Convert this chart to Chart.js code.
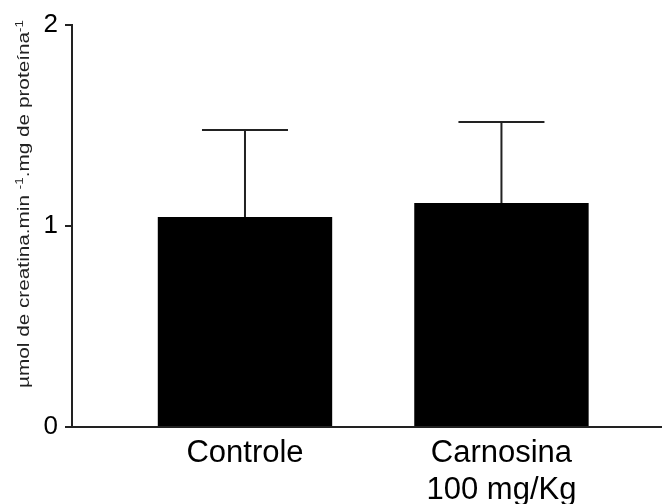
<!DOCTYPE html>
<html lang="pt-br">
<head>
    <meta charset="UTF-8">
    <title>Carnosina</title>
    <script src="https://cdn.jsdelivr.net/npm/chart.js"></script>
    <style>
        body { margin: 0; background: #fff; }
        #caixa { width: 662px; height: 504px; }
    </style>
</head>
<body>
    <div id="caixa">
        <canvas id="grafico" width="662" height="504"></canvas>
    </div>

<script>
    // dados
    const categorias = [['Controle'], ['Carnosina', '100 mg/Kg']];
    const posicoes = [1, 2];
    const medias = [1.045, 1.114];
    const erros = [0.433, 0.403];
    const ticksY = [0, 1, 2];

    const fonte = "'Liberation Sans', Arial, sans-serif";

    // barra de erro (so o lado de cima)
    const barrasErro = {
        id: 'barrasErro',
        afterDatasetsDraw(chart) {
            const { ctx, scales: { x, y } } = chart;
            ctx.save();
            ctx.strokeStyle = '#222';
            ctx.lineWidth = 2;
            medias.forEach((m, i) => {
                const px = x.getPixelForValue(posicoes[i]);
                const base = y.getPixelForValue(m);
                const topo = y.getPixelForValue(m + erros[i]);
                ctx.beginPath();
                ctx.moveTo(px, base);
                ctx.lineTo(px, topo);
                ctx.moveTo(px - 43, topo);
                ctx.lineTo(px + 43, topo);
                ctx.stroke();
            });
            ctx.restore();
        }
    };

    // titulo do eixo y com os expoentes
    const tituloY = {
        id: 'tituloY',
        afterDraw(chart) {
            const ctx = chart.ctx;
            const partes = [
                { t: 'µmol de creatina.min ', sup: false },
                { t: '-1', sup: true },
                { t: '.mg de proteína', sup: false },
                { t: '-1', sup: true }
            ];
            ctx.save();
            ctx.translate(29, 388);
            ctx.rotate(-Math.PI / 2);
            let total = 0;
            partes.forEach(p => {
                ctx.font = (p.sup ? '11px ' : '17px ') + fonte;
                total += ctx.measureText(p.t).width;
            });
            ctx.scale(368 / total, 1);
            ctx.fillStyle = '#222';
            ctx.textBaseline = 'alphabetic';
            let pos = 0;
            partes.forEach(p => {
                ctx.font = (p.sup ? '11px ' : '17px ') + fonte;
                ctx.fillText(p.t, pos, p.sup ? -6 : 0);
                pos += ctx.measureText(p.t).width;
            });
            ctx.restore();
        }
    };

    new Chart(document.getElementById('grafico'), {
        type: 'bar',
        data: {
            datasets: [{
                data: posicoes.map((p, i) => ({ x: p, y: medias[i] })),
                backgroundColor: '#000',
                borderWidth: 0,
                barPercentage: 0.68,
                categoryPercentage: 1
            }]
        },
        options: {
            responsive: false,
            animation: false,
            layout: { padding: { top: 25, right: 0, left: 0, bottom: 0 } },
            plugins: {
                legend: { display: false },
                tooltip: { enabled: false }
            },
            scales: {
                x: {
                    type: 'linear',
                    offset: false,
                    min: 0.3255,
                    max: 2.626,
                    afterBuildTicks(scale) {
                        scale.ticks = posicoes.map(v => ({ value: v }));
                    },
                    afterFit(scale) { scale.height = 77; },
                    grid: { display: false, drawTicks: false, offset: false },
                    border: { display: true, color: '#222', width: 2 },
                    ticks: {
                        padding: 8,
                        color: '#000',
                        font: { family: fonte, size: 31, lineHeight: 1.2 },
                        maxRotation: 0,
                        autoSkip: false,
                        callback: (v) => {
                            const i = posicoes.indexOf(v);
                            return i >= 0 ? categorias[i] : '';
                        }
                    }
                },
                y: {
                    min: 0,
                    max: 2,
                    afterBuildTicks(scale) {
                        scale.ticks = ticksY.map(v => ({ value: v }));
                    },
                    afterFit(scale) { scale.width = 72; },
                    grid: { drawOnChartArea: false, drawTicks: true, tickLength: 7, color: '#222', lineWidth: 2 },
                    border: { display: true, color: '#222', width: 2 },
                    ticks: {
                        padding: 7,
                        color: '#000',
                        font: { family: fonte, size: 26 }
                    }
                }
            }
        },
        plugins: [barrasErro, tituloY]
    });
</script>
</body>
</html>
